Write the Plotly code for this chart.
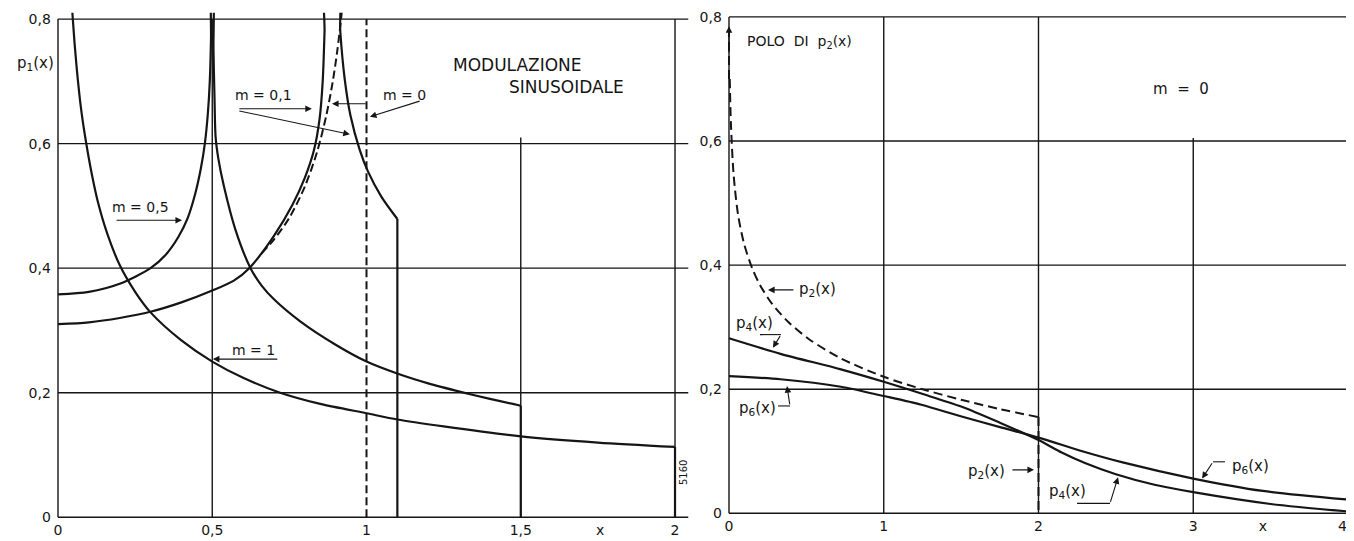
import plotly.graph_objects as go

# ---- left panel: p1(x), sinusoidal modulation ----
M1_X = [0.040, 0.048, 0.060, 0.075, 0.090, 0.110, 0.130, 0.160, 0.200, 0.250, 0.300, 0.400,
        0.500, 0.600, 0.720, 0.850, 1.000, 1.100, 1.250, 1.500, 1.750, 2.000]
M1_Y = [0.870, 0.800, 0.725, 0.655, 0.605, 0.550, 0.505, 0.455, 0.405, 0.362, 0.329, 0.284,
        0.250, 0.224, 0.200, 0.182, 0.167, 0.157, 0.146, 0.130, 0.120, 0.113]

M05_X = [0.000, 0.100, 0.200, 0.300, 0.350, 0.390, 0.420, 0.445, 0.463, 0.476, 0.486, 0.492,
         0.496, 0.498, 0.502, 0.504, 0.507, 0.511, 0.520, 0.538, 0.575, 0.624, 0.660, 0.700,
         0.784, 0.900, 1.000, 1.104, 1.200, 1.308, 1.400, 1.500]
M05_Y = [0.358, 0.362, 0.375, 0.400, 0.422, 0.450, 0.480, 0.520, 0.560, 0.600, 0.650, 0.700,
         0.770, 0.850, 0.850, 0.750, 0.680, 0.610, 0.575, 0.531, 0.462, 0.400, 0.372, 0.350,
         0.315, 0.277, 0.250, 0.230, 0.215, 0.201, 0.190, 0.179]

M01_X = [0.000, 0.100, 0.200, 0.300, 0.400, 0.500, 0.570, 0.620, 0.700, 0.760, 0.800, 0.830,
         0.848, 0.858, 0.864, 0.868, 0.908, 0.915, 0.929, 0.948, 0.978, 1.005, 1.048, 1.100]
M01_Y = [0.310, 0.313, 0.320, 0.330, 0.345, 0.364, 0.380, 0.400, 0.452, 0.502, 0.545, 0.590,
         0.640, 0.700, 0.780, 0.850, 0.850, 0.780, 0.705, 0.645, 0.590, 0.555, 0.515, 0.479]

M0_X = [0.660, 0.700, 0.750, 0.800, 0.840, 0.870, 0.890, 0.905, 0.920, 0.935]
M0_Y = [0.424, 0.446, 0.481, 0.531, 0.587, 0.646, 0.698, 0.748, 0.812, 0.900]
M0_DELTA_X = 1.0

LEFT_XTICKS = [0, 0.5, 1, 1.5, 1.757, 2]
LEFT_XLABELS = ["0", "0,5", "1", "1,5", "x", "2"]
Y_TICKS = [0, 0.2, 0.4, 0.6, 0.8]
Y_LABELS = ["0", "0,2", "0,4", "0,6", "0,8"]

# ---- right panel: m = 0 ----
P2_X = [0.005, 0.012, 0.030, 0.060, 0.100, 0.150, 0.200, 0.280, 0.385, 0.515, 0.720, 1.000,
        1.250, 1.500, 1.750, 2.000]
P2_Y = [0.700, 0.630, 0.545, 0.479, 0.432, 0.395, 0.368, 0.337, 0.308, 0.281, 0.250, 0.220,
        0.200, 0.183, 0.168, 0.155]
P2_POLE_X = 0.0
P2_POLE_TOP = 0.785

P4_X = [0.000, 0.333, 0.723, 1.000, 1.243, 1.500, 1.750, 2.000, 2.150, 2.300, 2.500, 2.750,
        3.000, 3.500, 4.000]
P4_Y = [0.282, 0.257, 0.232, 0.212, 0.193, 0.172, 0.146, 0.118, 0.098, 0.081, 0.063, 0.046,
        0.034, 0.015, 0.003]

P6_X = [0.000, 0.333, 0.723, 1.000, 1.243, 1.503, 1.763, 2.000, 2.283, 2.544, 3.000, 3.450, 4.000]
P6_Y = [0.221, 0.216, 0.204, 0.189, 0.175, 0.156, 0.138, 0.122, 0.100, 0.082, 0.056, 0.036, 0.022]

RIGHT_XTICKS = [0, 1, 2, 3, 3.45, 3.965]
RIGHT_XLABELS = ["0", "1", "2", "3", "x", "4"]

INK = "#151515"
FONT = "DejaVu Sans, sans-serif"

fig = go.Figure()


def curve(x, y, xa, ya, dash=None, width=2.2, shape="spline"):
    fig.add_trace(go.Scatter(
        x=x, y=y, xaxis=xa, yaxis=ya, mode="lines",
        line=dict(color=INK, width=width, dash=dash, shape=shape, smoothing=0.8),
        hoverinfo="skip", showlegend=False,
    ))


def drop(x, y_top, xa, ya, dash=None, width=2.2):
    curve([x, x], [y_top, 0], xa, ya, dash=dash, width=width, shape="linear")


def label(text, xa, ya, x, y, size=14, anchor="center", angle=0):
    fig.add_annotation(text=text, x=x, y=y, xref=xa, yref=ya, showarrow=False,
                       xanchor=anchor, yanchor="middle", textangle=angle,
                       font=dict(family=FONT, size=size, color=INK))


def arrow(xa, ya, tail, head):
    fig.add_annotation(x=head[0], y=head[1], ax=tail[0], ay=tail[1],
                       xref=xa, yref=ya, axref=xa, ayref=ya, text="",
                       showarrow=True, arrowhead=2, arrowsize=1.2, arrowwidth=1.1,
                       arrowcolor=INK, standoff=0, startstandoff=0)


def seg(xa, ya, p0, p1, width=1.1):
    fig.add_shape(type="line", xref=xa, yref=ya, x0=p0[0], y0=p0[1], x1=p1[0], y1=p1[1],
                  line=dict(color=INK, width=width))


# grid, drawn as in the original sheet (two verticals stop at 0.6)
for yv in Y_TICKS:
    fig.add_shape(type="line", xref="x", yref="y", x0=0, x1=2.043, y0=yv, y1=yv,
                  line=dict(color=INK, width=1.4), layer="below")
    fig.add_shape(type="line", xref="x2", yref="y2", x0=0, x1=4, y0=yv, y1=yv,
                  line=dict(color=INK, width=1.4), layer="below")
for xv, top in [(0, 0.8), (0.5, 0.8), (1.5, 0.61), (2, 0.8)]:
    fig.add_shape(type="line", xref="x", yref="y", x0=xv, x1=xv, y0=0, y1=top,
                  line=dict(color=INK, width=1.4), layer="below")
for xv, top in [(0, 0.8), (1, 0.8), (2, 0.8), (3, 0.605), (4, 0.8)]:
    fig.add_shape(type="line", xref="x2", yref="y2", x0=xv, x1=xv, y0=0, y1=top,
                  line=dict(color=INK, width=1.4), layer="below")

# left curves
curve(M1_X, M1_Y, "x", "y")
drop(M1_X[-1], M1_Y[-1], "x", "y")
curve(M05_X, M05_Y, "x", "y")
drop(M05_X[-1], M05_Y[-1], "x", "y")
curve(M01_X, M01_Y, "x", "y")
drop(M01_X[-1], M01_Y[-1], "x", "y")
curve(M0_X, M0_Y, "x", "y", dash="8px,4px", width=2.0)
curve([M0_DELTA_X, M0_DELTA_X], [0, 0.8], "x", "y", dash="8px,4px", width=2.0, shape="linear")

# right curves
curve(P2_X, P2_Y, "x2", "y2", dash="9px,5px", width=2.0)
curve([P2_POLE_X, P2_POLE_X], [P2_Y[0], P2_POLE_TOP], "x2", "y2", dash="9px,5px", width=2.0,
      shape="linear")
drop(P2_X[-1], P2_Y[-1], "x2", "y2", dash="9px,5px", width=2.0)
curve(P4_X, P4_Y, "x2", "y2")
curve(P6_X, P6_Y, "x2", "y2")

# left annotations
fig.add_annotation(text="p<sub>1</sub>(x)", x=0.02006, y=0.8987, xref="paper", yref="paper",
                   xanchor="center", yanchor="middle", showarrow=False,
                   font=dict(family=FONT, size=15, color=INK))
label("m = 0,1", "x", "y", 0.665, 0.678)
arrow("x", "y", (0.583, 0.656), (0.823, 0.656))
arrow("x", "y", (0.583, 0.653), (0.946, 0.615))
label("m = 0", "x", "y", 1.122, 0.678)
arrow("x", "y", (1.002, 0.664), (0.888, 0.664))
arrow("x", "y", (1.177, 0.669), (1.011, 0.643))
label("MODULAZIONE", "x", "y", 1.488, 0.727, size=17)
label("SINUSOIDALE", "x", "y", 1.647, 0.691, size=17)
label("m = 0,5", "x", "y", 0.266, 0.499)
arrow("x", "y", (0.185, 0.477), (0.402, 0.477))
label("m = 1", "x", "y", 0.635, 0.269)
arrow("x", "y", (0.716, 0.254), (0.502, 0.254))
label("5160", "x", "y", 2.026, 0.071, size=10, angle=-90)

# right annotations
label("POLO\u00a0\u00a0DI\u00a0\u00a0p<sub>2</sub>(x)", "x2", "y2", 0.103, 0.76, size=14,
      anchor="left")
arrow("x2", "y2", (0, 0.74), (0, P2_POLE_TOP))
label("p<sub>2</sub>(x)", "x2", "y2", 0.575, 0.36, size=15)
arrow("x2", "y2", (0.426, 0.36), (0.252, 0.36))
label("p<sub>4</sub>(x)", "x2", "y2", 0.162, 0.306, size=15)
seg("x2", "y2", (0.2, 0.288), (0.336, 0.288))
arrow("x2", "y2", (0.336, 0.288), (0.284, 0.267))
label("p<sub>6</sub>(x)", "x2", "y2", 0.181, 0.169, size=15)
seg("x2", "y2", (0.317, 0.173), (0.394, 0.173))
arrow("x2", "y2", (0.394, 0.173), (0.375, 0.205))
label("p<sub>2</sub>(x)", "x2", "y2", 1.661, 0.068, size=15)
arrow("x2", "y2", (1.822, 0.07), (1.971, 0.07))
label("p<sub>4</sub>(x)", "x2", "y2", 2.19, 0.035, size=15)
seg("x2", "y2", (2.249, 0.016), (2.462, 0.016))
arrow("x2", "y2", (2.462, 0.016), (2.514, 0.058))
label("p<sub>6</sub>(x)", "x2", "y2", 3.367, 0.076, size=15)
seg("x2", "y2", (3.205, 0.083), (3.128, 0.083))
arrow("x2", "y2", (3.128, 0.083), (3.057, 0.056))
label("m\u00a0\u00a0=\u00a0\u00a00", "x2", "y2", 2.92, 0.684, size=15)

axis_common = dict(showgrid=False, zeroline=False, showline=False, ticks="",
                   tickfont=dict(family=FONT, size=14, color=INK), fixedrange=True,
                   ticklabelstandoff=0)

# the page body keeps an 8 px margin, so the figure is 8 px smaller than the window
fig.update_layout(
    width=1346, height=533,
    margin=dict(l=0, r=0, t=0, b=0),
    paper_bgcolor="white", plot_bgcolor="white",
    xaxis=dict(domain=[0.03256, 0.50587], range=[-0.02, 2.045], anchor="y",
               tickvals=LEFT_XTICKS, ticktext=LEFT_XLABELS, **axis_common),
    yaxis=dict(domain=[0.02972, 0.99458], range=[-0.005, 0.81], anchor="x",
               tickvals=Y_TICKS, ticktext=Y_LABELS, **axis_common),
    xaxis2=dict(domain=[0.53106, 1.0], range=[-0.04, 4.0388], anchor="y2",
                tickvals=RIGHT_XTICKS, ticktext=RIGHT_XLABELS, **axis_common),
    yaxis2=dict(domain=[0.03726, 0.99867], range=[-0.005, 0.81], anchor="x2",
                tickvals=Y_TICKS, ticktext=Y_LABELS, **axis_common),
)

fig.write_html("out.html")
